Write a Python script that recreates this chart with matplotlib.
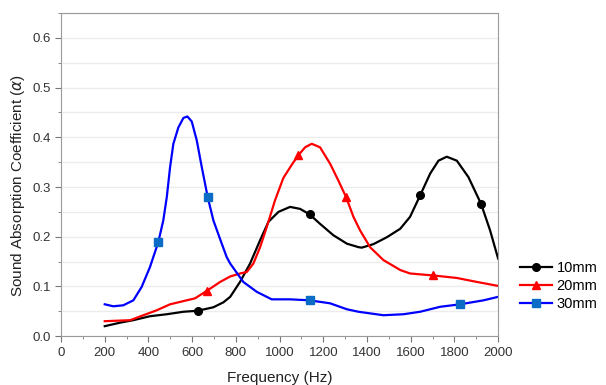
import numpy as np
import matplotlib.pyplot as plt
from matplotlib.ticker import MultipleLocator

plt.rcParams['font.family'] = ['Liberation Sans', 'DejaVu Sans']

# 10mm sample
freq_10 = [200, 270, 330, 407, 484, 560, 625, 697, 743, 774, 819, 865, 911, 949, 995,
           1048, 1094, 1137, 1185, 1246, 1308, 1361, 1376, 1429, 1491, 1552, 1597, 1643,
           1689, 1727, 1765, 1811, 1864, 1922, 1963, 2000]
alpha_10 = [0.020, 0.027, 0.032, 0.040, 0.044, 0.049, 0.051, 0.058, 0.068, 0.079, 0.109,
            0.146, 0.193, 0.230, 0.250, 0.260, 0.256, 0.245, 0.226, 0.203, 0.186, 0.179,
            0.178, 0.185, 0.199, 0.216, 0.240, 0.283, 0.327, 0.353, 0.361, 0.353, 0.320,
            0.266, 0.213, 0.156]
mark_10 = [625, 1137, 1643, 1922]

# 20mm sample
freq_20 = [200, 316, 377, 438, 499, 575, 613, 667, 728, 774, 819, 850, 880, 911, 941,
           979, 1017, 1056, 1086, 1117, 1147, 1185, 1231, 1269, 1304, 1338, 1368, 1414,
           1475, 1552, 1597, 1704, 1811, 1903, 2000]
alpha_20 = [0.030, 0.032, 0.042, 0.052, 0.064, 0.072, 0.076, 0.091, 0.109, 0.120, 0.126,
            0.129, 0.146, 0.179, 0.219, 0.273, 0.318, 0.345, 0.364, 0.380, 0.387, 0.380,
            0.347, 0.313, 0.280, 0.240, 0.213, 0.179, 0.153, 0.133, 0.126, 0.122, 0.117,
            0.109, 0.101]
mark_20 = [667, 1086, 1304, 1704]

# 30mm sample
freq_30 = [200, 239, 285, 331, 369, 407, 445, 468, 484, 499, 514, 537, 560, 578, 598,
           621, 644, 671, 697, 728, 758, 774, 834, 896, 964, 1048, 1137, 1231, 1308,
           1361, 1475, 1567, 1643, 1735, 1826, 1933, 2000]
alpha_30 = [0.064, 0.060, 0.062, 0.072, 0.099, 0.139, 0.189, 0.233, 0.280, 0.340, 0.387,
            0.420, 0.439, 0.442, 0.432, 0.394, 0.340, 0.280, 0.233, 0.195, 0.159, 0.146,
            0.109, 0.089, 0.074, 0.074, 0.072, 0.066, 0.054, 0.049, 0.042, 0.044, 0.049,
            0.059, 0.064, 0.072, 0.079]
mark_30 = [445, 671, 1137, 1826]

series = [
    ('10mm', freq_10, alpha_10, mark_10, 'black', 'o', 'black'),
    ('20mm', freq_20, alpha_20, mark_20, 'red', '^', 'red'),
    ('30mm', freq_30, alpha_30, mark_30, 'blue', 's', '#0a6cc4'),
]

fig = plt.figure(figsize=(6.06, 3.85), dpi=100)
ax = fig.add_axes([0.1007, 0.127, 0.7213, 0.839])

for name, fx, fy, marks, col, mk, mcol in series:
    idx = [fx.index(m) for m in marks]
    ax.plot(fx, fy, color=col, lw=1.6, marker=mk, markevery=idx, ms=5.5,
            markerfacecolor=mcol, markeredgecolor=mcol, label=name,
            solid_joinstyle='round')

ax.set_xlim(0, 2000)
ax.set_ylim(0, 0.65)
ax.xaxis.set_major_locator(MultipleLocator(200))
ax.xaxis.set_minor_locator(MultipleLocator(100))
ax.yaxis.set_major_locator(MultipleLocator(0.1))
ax.yaxis.set_minor_locator(MultipleLocator(0.05))
ax.yaxis.set_major_formatter(plt.FormatStrFormatter('%.1f'))
ax.grid(True, which='both', axis='y', color='#ececec', lw=1.0)
ax.set_axisbelow(True)

for s in ax.spines.values():
    s.set_color('#9a9a9a')
ax.tick_params(which='both', direction='out', color='#777777', labelsize=9.5, labelcolor='#333333')
ax.tick_params(which='major', length=4)
ax.tick_params(which='minor', length=2.5)

ax.set_xlabel('Frequency (Hz)', fontsize=11, color='#222222', labelpad=9)
ax.set_ylabel(r'Sound Absorption Coefficient ($\alpha$)', fontsize=11, color='#222222', y=0.465)

ax.legend(loc='center left', bbox_to_anchor=(1.02, 0.155), frameon=False, fontsize=10.5,
          handlelength=2.2, handletextpad=0.3, labelspacing=0.25)

fig.savefig('out.png', dpi=100)
